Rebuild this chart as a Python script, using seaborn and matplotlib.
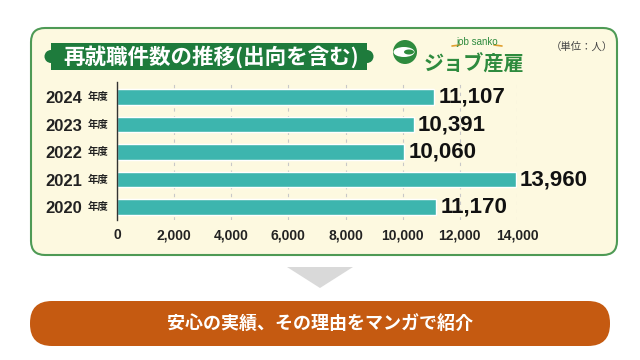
import matplotlib
matplotlib.use("Agg")
import matplotlib.pyplot as plt
import seaborn as sns
from matplotlib.patches import FancyBboxPatch, Rectangle, Circle, Polygon, Ellipse

# data
years = ["2024", "2023", "2022", "2021", "2020"]
counts = [11107, 10391, 10060, 13960, 11170]
xticks = [0, 2000, 4000, 6000, 8000, 10000, 12000, 14000]

title = "再就職件数の推移(出向を含む)"
unit = "（単位：人）"
button_text = "安心の実績、その理由をマンガで紹介"

sns.set_theme(style="white")
plt.rcParams['font.family'] = ['Liberation Sans', 'Noto Sans CJK JP', 'DejaVu Sans']
jp = ['Noto Sans CJK JP', 'DejaVu Sans']

teal = "#3DB5AE"
green = "#1E7B3C"

fig = plt.figure(figsize=(6.4, 3.6), dpi=100)
fig.patch.set_facecolor("white")

# background layer in pixel coords
bg = fig.add_axes([0, 0, 1, 1], zorder=0)
bg.set_xlim(0, 640)
bg.set_ylim(360, 0)
bg.axis("off")

bg.add_patch(FancyBboxPatch((31, 28), 586, 227, boxstyle="round,pad=0,rounding_size=14",
                            fc="#FDF9E0", ec="#4E9A55", lw=1.5))

# title banner
bg.add_patch(Rectangle((51, 43), 316, 27, fc=green, ec="none"))
bg.add_patch(Circle((51, 56.5), 6.5, fc=green, ec="none"))
bg.add_patch(Circle((367, 56.5), 6.5, fc=green, ec="none"))
bg.text(211, 57, title, color="white", fontsize=15.5, fontweight="bold",
        ha="center", va="center", family=jp)

# logo
bg.add_patch(Circle((405, 52), 12, fc="#2E8B3E", ec="none"))
bg.add_patch(Ellipse((404, 52), 21, 10, fc="white", ec="none"))
bg.add_patch(Ellipse((409, 52), 10, 5, fc="#2E8B3E", ec="none"))
bg.text(474, 64, "ジョブ産雇", color="#2E8B3E", fontsize=14.5, fontweight="bold",
        ha="center", va="center", family=jp)
bg.text(477, 42, "job sanko", color="#2E8B3E", fontsize=7, ha="center", va="center")
bg.plot([452, 460], [46, 45], color="#E0A030", lw=1.2)
bg.plot([494, 502], [45, 46], color="#E0A030", lw=1.2)

bg.text(582, 47, unit, color="#444444", fontsize=7.5, ha="center", va="center", family=jp)

# arrow and button
bg.add_patch(Polygon([(287, 267), (353, 267), (320, 288)], fc="#D9D9D9", ec="none"))
bg.add_patch(FancyBboxPatch((30, 301), 580, 45, boxstyle="round,pad=0,rounding_size=22",
                            fc="#C55A11", ec="none"))
bg.text(320, 324, button_text, color="white", fontsize=13, fontweight="bold",
        ha="center", va="center", family=jp)

# chart
ax = fig.add_axes([117 / 640, 1 - 220 / 360, 400 / 640, 138 / 360], zorder=1)
ax.patch.set_visible(False)
sns.barplot(x=counts, y=years, orient="h", color=teal, width=0.55, saturation=1, ax=ax)

ax.set_xlim(0, 14000)
ax.set_ylim(4.47, -0.545)
ax.set_xticks(xticks)
ax.set_xticklabels([f"{v:,}" for v in xticks], fontsize=10, fontweight="bold", color="#222222")
ax.set_yticklabels(years, fontsize=12, fontweight="bold", color="#222222")
ax.tick_params(axis="x", length=0, pad=6)
ax.tick_params(axis="y", length=0, pad=25)
ax.set_xlabel("")
ax.set_ylabel("")

ax.xaxis.grid(True, linestyle=(0, (3, 4)), color="#C8C8C8", lw=0.8)
ax.set_axisbelow(True)
for s in ["top", "right", "bottom"]:
    ax.spines[s].set_visible(False)
ax.spines["left"].set_color("#333333")
ax.spines["left"].set_linewidth(1)

for i, y in enumerate(years):
    ax.annotate("年度", xy=(0, i), xycoords=("axes fraction", "data"),
                xytext=(-6.5, 0), textcoords="offset points", ha="right", va="center",
                fontsize=7.5, fontweight="bold", color="#222222", family=jp)

ax.bar_label(ax.containers[0], labels=[f"{v:,}" for v in counts], padding=3,
             fontsize=16, fontweight="bold", color="#111111")

fig.savefig("out.png", dpi=100, facecolor="white")
